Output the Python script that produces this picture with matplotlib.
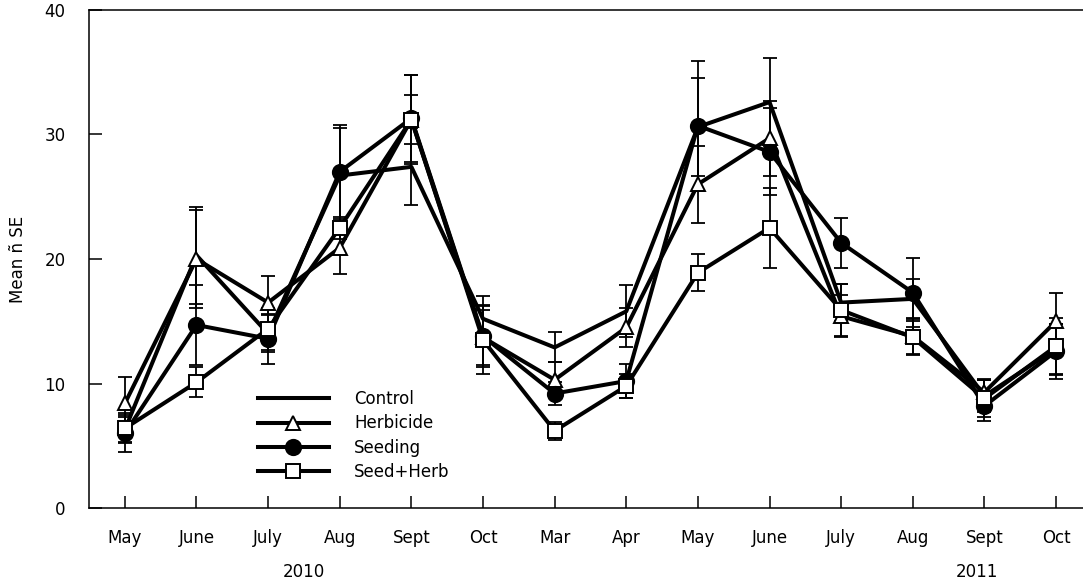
import matplotlib
matplotlib.use("Agg")
import matplotlib.pyplot as plt
import numpy as np

plt.rcParams['font.family'] = ['DejaVu Sans']

# monthly sampling, two seasons
months = ["May", "June", "July", "Aug", "Sept", "Oct",
          "Mar", "Apr", "May", "June", "July", "Aug", "Sept", "Oct"]

control      = [6.3, 20.3, 14.0, 26.7, 27.4, 15.2, 12.9, 15.8, 30.6, 32.6, 16.5, 16.8, 9.0, 12.8]
control_se   = [1.0, 3.9, 1.5, 3.8, 3.1, 1.8, 1.2, 2.1, 3.9, 3.5, 1.5, 1.6, 1.3, 2.0]
herbicide    = [8.4, 20.0, 16.5, 20.9, 31.2, 13.7, 10.3, 14.5, 26.0, 29.7, 15.4, 13.8, 9.3, 15.0]
herbicide_se = [2.1, 3.9, 2.1, 2.1, 2.0, 2.2, 1.4, 1.6, 3.1, 3.0, 1.7, 1.5, 1.1, 2.3]
seeding      = [6.0, 14.7, 13.6, 27.0, 31.3, 13.8, 9.2, 10.2, 30.7, 28.6, 21.3, 17.3, 8.2, 12.6]
seeding_se   = [1.5, 3.2, 2.0, 3.8, 3.5, 2.5, 0.9, 1.4, 5.2, 3.5, 2.0, 2.8, 1.2, 2.2]
seed_herb    = [6.4, 10.1, 14.4, 22.5, 31.2, 13.5, 6.2, 9.8, 18.9, 22.5, 15.9, 13.7, 8.8, 13.0]
seed_herb_se = [1.2, 1.2, 1.7, 0.9, 3.6, 2.7, 0.7, 1.0, 1.5, 3.2, 2.1, 1.3, 1.5, 2.3]

years = ["2010", "2011"]
year_pos = [2.5, 11.9]

x = np.arange(len(months))

fig = plt.figure(figsize=(10.83, 5.84), dpi=100)
ax = fig.add_axes([0.0822, 0.130, 0.926, 0.853])

series = [
    (control, control_se, "Control", dict(marker="None")),
    (herbicide, herbicide_se, "Herbicide", dict(marker="^", ms=10, mfc="white")),
    (seeding, seeding_se, "Seeding", dict(marker="o", ms=11, mfc="black")),
    (seed_herb, seed_herb_se, "Seed+Herb", dict(marker="s", ms=9.5, mfc="white")),
]

# error bars first, lines and symbols on top
for vals, se, lab, st in series:
    ax.errorbar(x, vals, yerr=se, fmt="none", ecolor="black",
                elinewidth=1.3, capsize=5, capthick=1.3, zorder=2)
for vals, se, lab, st in series:
    ax.plot(x, vals, color="black", lw=2.9, mec="black", mew=1.4,
            label=lab, zorder=3, **st)

ax.set_xlim(-0.5, 13.5)
ax.set_ylim(0, 40)
ax.set_yticks([0, 10, 20, 30, 40])
ax.set_xticks(x)
ax.set_xticklabels(months)
ax.tick_params(axis="x", direction="in", length=9, width=1.1, pad=15, labelsize=12)
ax.tick_params(axis="y", direction="in", length=9.5, width=1.1, pad=17, labelsize=12)
for s in ["left", "bottom", "top"]:
    ax.spines[s].set_linewidth(1.1)
ax.spines["right"].set_visible(False)

ax.set_ylabel("Mean ñ SE", fontsize=12)
ax.yaxis.set_label_coords(-0.062, 0.5)

for yr, pos in zip(years, year_pos):
    ax.text(pos, -0.128, yr, transform=ax.get_xaxis_transform(),
            ha="center", va="center", fontsize=12)

ax.legend(loc="upper left", bbox_to_anchor=(0.168, 0.237), frameon=False,
          fontsize=12, handlelength=4.3, handletextpad=1.5,
          labelspacing=0.38, borderpad=0, borderaxespad=0)

fig.savefig("out.png", dpi=100)
